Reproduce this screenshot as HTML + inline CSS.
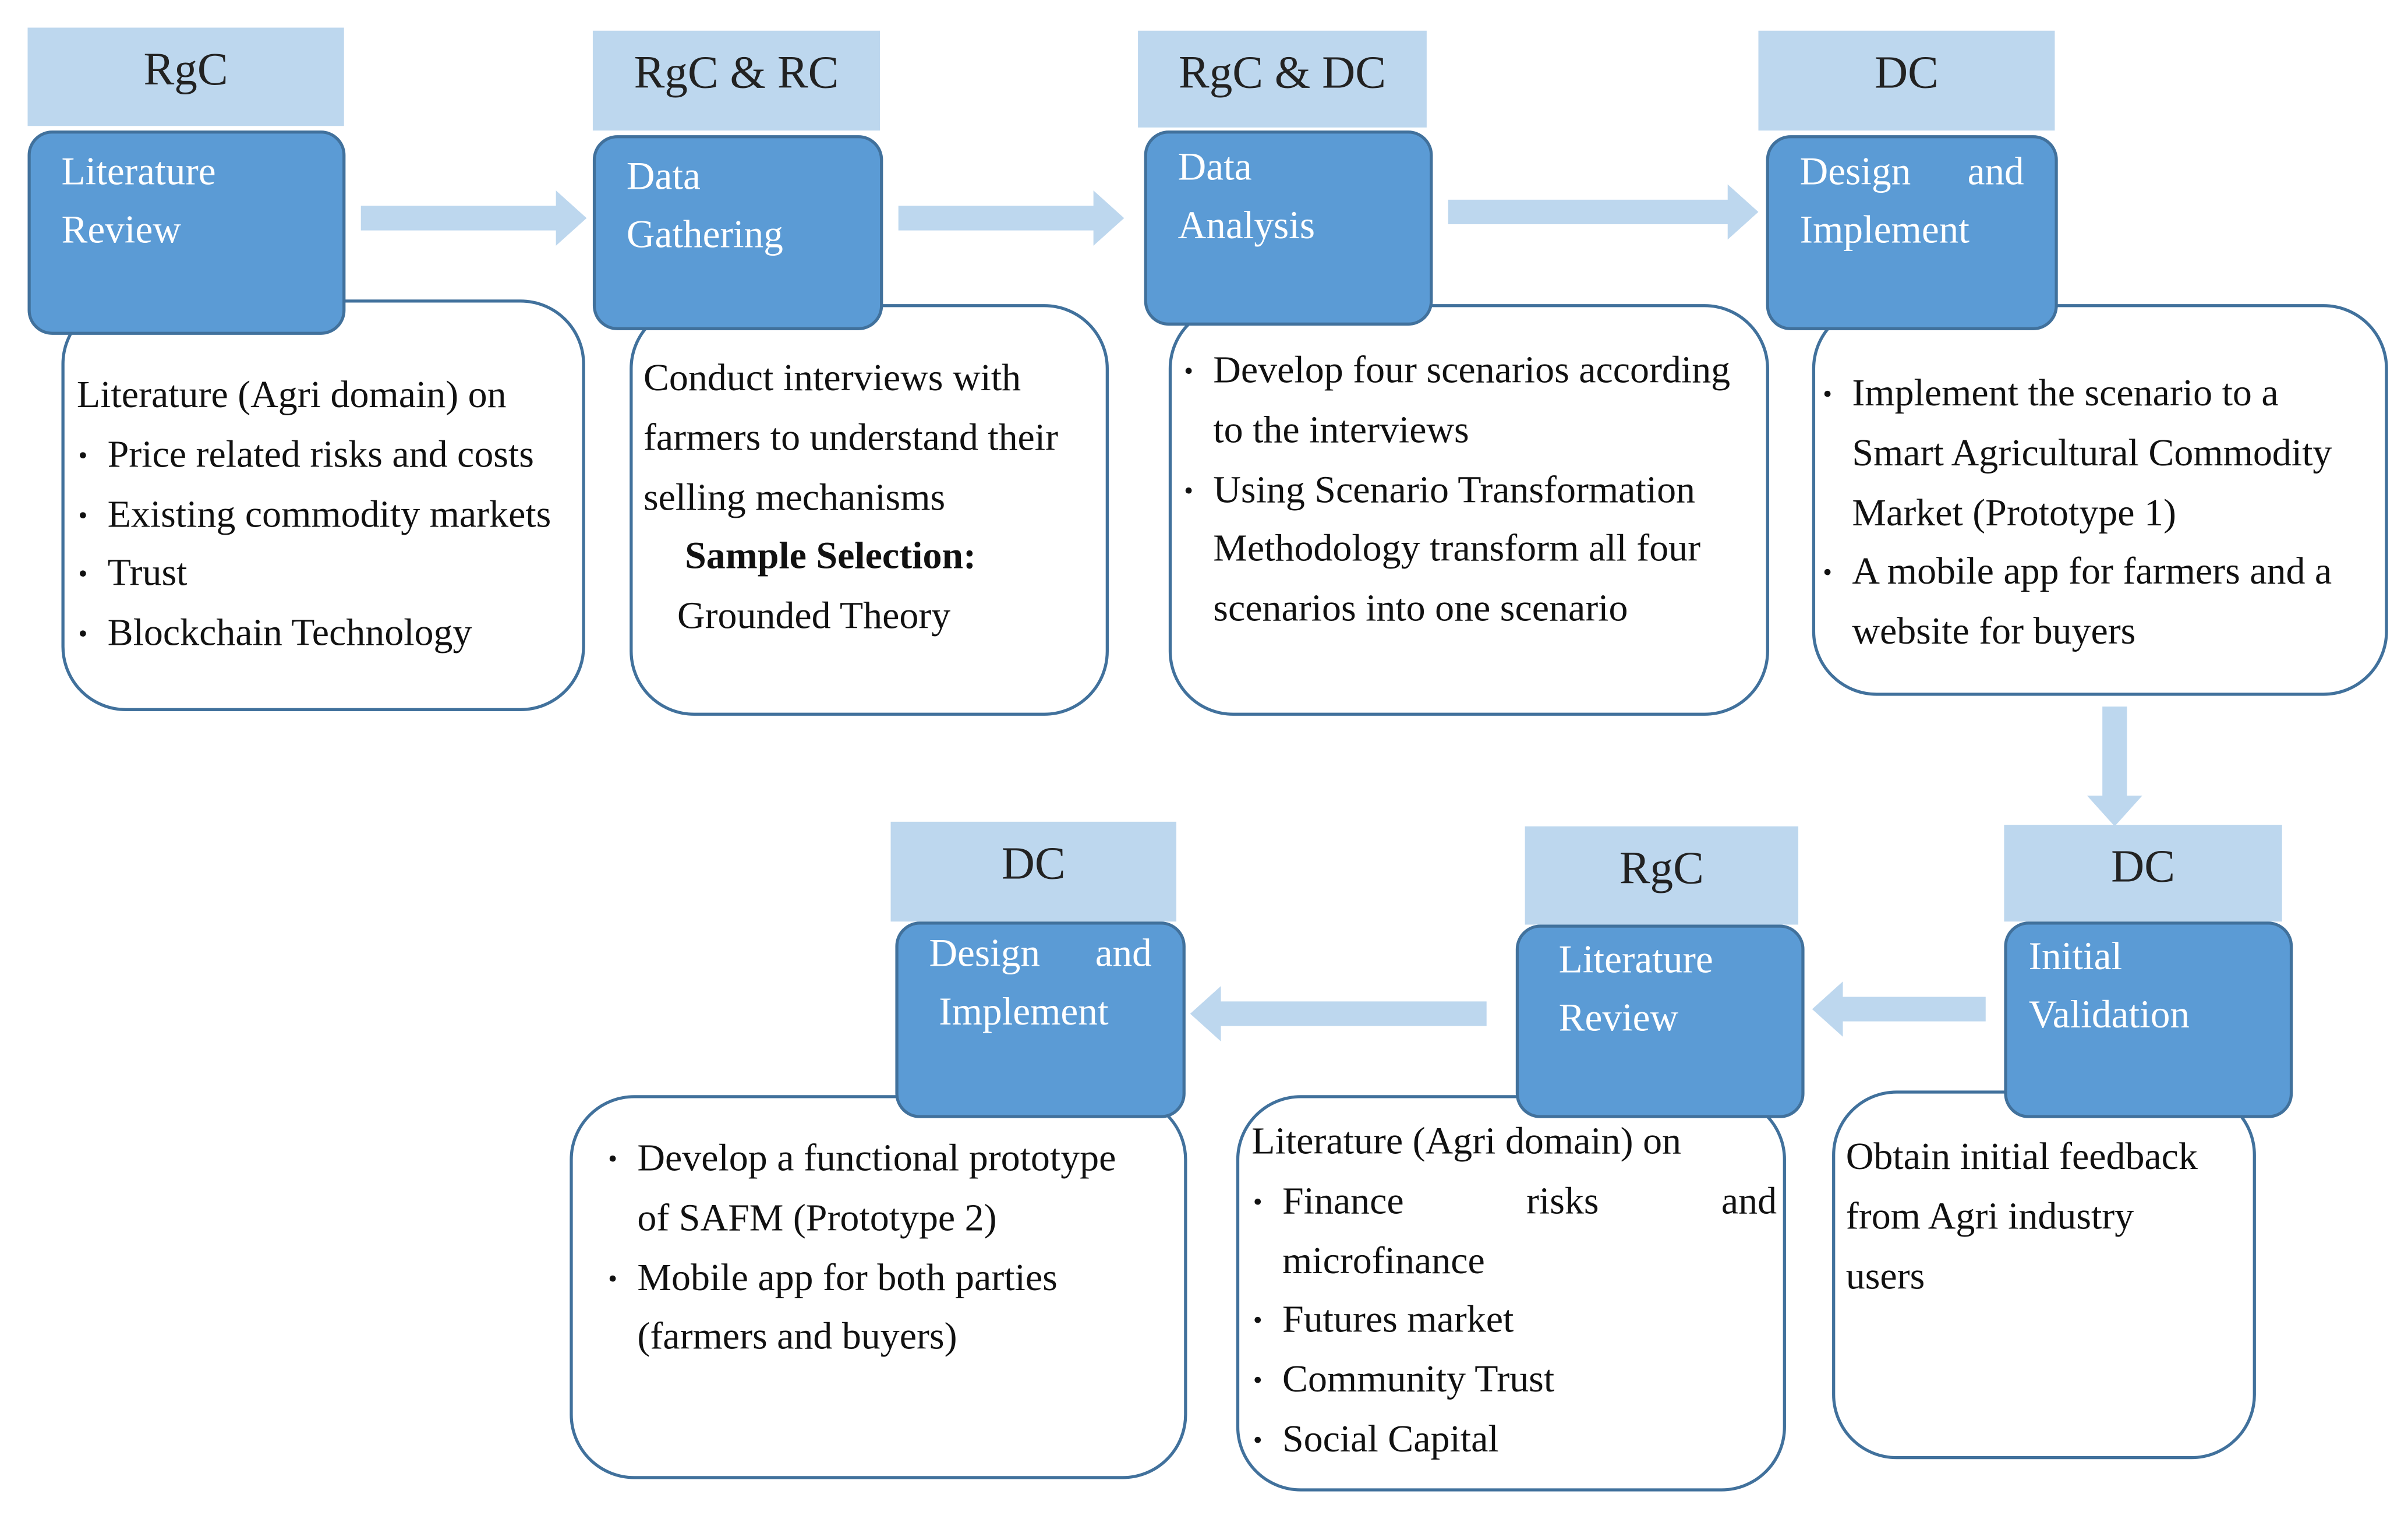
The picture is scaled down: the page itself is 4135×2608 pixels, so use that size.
<!DOCTYPE html>
<html><head><meta charset="utf-8"><style>
html,body{margin:0;padding:0;background:#fff;}
#root{position:absolute;left:0;top:0;width:1568px;height:989px;transform:scale(2.6371);transform-origin:0 0;font-family:"Liberation Serif",serif;}
.h{position:absolute;background:#bdd7ee;color:#222;font-size:30px;text-align:center;box-sizing:border-box;padding-top:11px;}
.b{position:absolute;background:#5b9bd5;border:2px solid #41719c;border-radius:16px;color:#fff;font-size:25.5px;line-height:38px;box-sizing:border-box;padding:6px 20px;z-index:2;white-space:nowrap;}
.w{position:absolute;background:#fff;border:2.5px solid #41719c;border-radius:42px;box-sizing:border-box;font-size:25px;line-height:38.8px;color:#111;z-index:1;white-space:nowrap;}
.w ul{margin:0;padding-left:20px;list-style:none;}
.w li{position:relative;}
.w li:before{content:"•";position:absolute;left:-19px;font-size:17px;}
.j{display:flex;justify-content:space-between;}
svg{position:absolute;left:0;top:0;z-index:0;}
</style></head><body><div id="root">
<svg width="1568" height="989">
<g fill="#bdd7ee">
<polygon points="235,134 362,134 362,124 382,142 362,160 362,150 235,150"/>
<polygon points="585,134 712,134 712,124 732,142 712,160 712,150 585,150"/>
<polygon points="943,130 1125,130 1125,120 1145,138 1125,156 1125,146 943,146"/>
<polygon points="1369,460 1385,460 1385,518 1395,518 1377,538 1359,518 1369,518"/>
<polygon points="968,652 795,652 795,642 775,660 795,678 795,668 968,668"/>
<polygon points="1293,649 1200,649 1200,639 1180,657 1200,675 1200,665 1293,665"/>
</g></svg>

<div class="h" style="left:18px;top:18px;width:206px;height:64px;">RgC</div>
<div class="b" style="left:18px;top:85px;width:207px;height:133px;">Literature<br>Review</div>
<div class="w" style="left:40px;top:195px;width:341px;height:268px;padding:42px 0 0 8px;">Literature (Agri domain) on<ul><li>Price related risks and costs</li><li>Existing commodity markets</li><li>Trust</li><li>Blockchain Technology</li></ul></div>

<div class="h" style="left:386px;top:20px;width:187px;height:65px;">RgC &amp; RC</div>
<div class="b" style="left:386px;top:88px;width:189px;height:127px;">Data<br>Gathering</div>
<div class="w" style="left:410px;top:198px;width:312px;height:268px;padding:28px 0 0 7px;">Conduct interviews with<br>farmers to understand their<br>selling mechanisms<br><b style="padding-left:27px">Sample Selection:</b><br><span style="padding-left:22px">Grounded Theory</span></div>

<div class="h" style="left:741px;top:20px;width:188px;height:63px;">RgC &amp; DC</div>
<div class="b" style="left:745px;top:85px;width:188px;height:127px;padding-top:3px;">Data<br>Analysis</div>
<div class="w" style="left:761px;top:198px;width:391px;height:268px;padding:23px 0 0 7px;"><ul><li>Develop four scenarios according<br>to the interviews</li><li>Using Scenario Transformation<br>Methodology transform all four<br>scenarios into one scenario</li></ul></div>

<div class="h" style="left:1145px;top:20px;width:193px;height:65px;">DC</div>
<div class="b" style="left:1150px;top:88px;width:190px;height:127px;padding-top:3px;"><div class="j"><span>Design</span><span>and</span></div>Implement</div>
<div class="w" style="left:1180px;top:198px;width:375px;height:255px;padding:38px 0 0 4px;"><ul><li>Implement the scenario to a<br>Smart Agricultural Commodity<br>Market (Prototype 1)</li><li>A mobile app for farmers and a<br>website for buyers</li></ul></div>

<div class="h" style="left:580px;top:535px;width:186px;height:65px;">DC</div>
<div class="b" style="left:583px;top:600px;width:189px;height:128px;padding-top:0px;"><div class="j"><span>Design</span><span>and</span></div>&nbsp;Implement</div>
<div class="w" style="left:371px;top:713px;width:402px;height:250px;padding:21px 0 0 22px;"><ul><li>Develop a functional prototype<br>of SAFM (Prototype 2)</li><li>Mobile app for both parties<br>(farmers and buyers)</li></ul></div>

<div class="h" style="left:993px;top:538px;width:178px;height:64px;">RgC</div>
<div class="b" style="left:987px;top:602px;width:188px;height:126px;padding-top:2px;padding-left:26px;">Literature<br>Review</div>
<div class="w" style="left:805px;top:713px;width:358px;height:258px;padding:10px 4px 0 8px;">Literature (Agri domain) on<ul><li><div class="j"><span>Finance</span><span>risks</span><span>and</span></div>microfinance</li><li>Futures market</li><li>Community Trust</li><li>Social Capital</li></ul></div>

<div class="h" style="left:1305px;top:537px;width:181px;height:63px;">DC</div>
<div class="b" style="left:1305px;top:600px;width:188px;height:128px;padding-top:2px;padding-left:14px;">Initial<br>Validation</div>
<div class="w" style="left:1193px;top:710px;width:276px;height:240px;padding:23px 0 0 7px;">Obtain initial feedback<br>from Agri industry<br>users</div>
</div></body></html>
